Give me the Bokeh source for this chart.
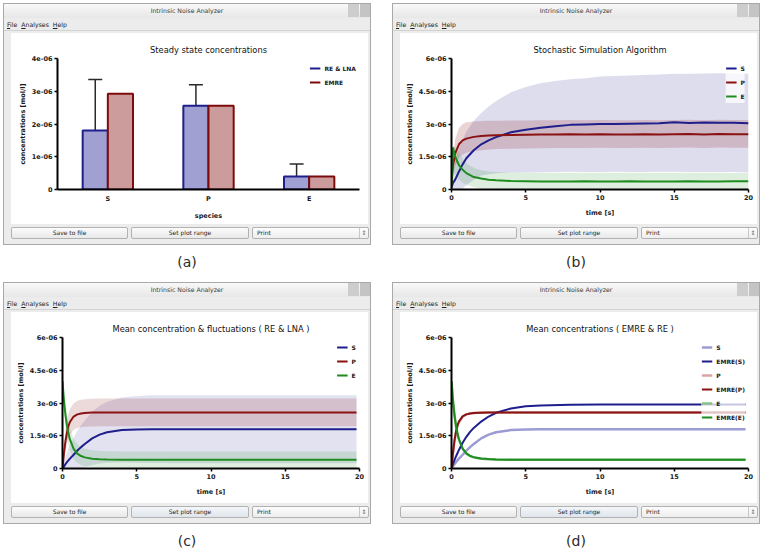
from bokeh.plotting import figure
from bokeh.layouts import row, column
from bokeh.models import (ColumnDataSource, FactorRange, Range1d, FixedTicker,
                          CustomJSTickFormatter, Whisker, TeeHead, Legend, LegendItem,
                          Div, Spacer)
from bokeh.transform import dodge
from bokeh.embed import file_html
from bokeh.resources import INLINE

# ------------------------------------------------------------------ data
# all concentrations below are read in micro-mol/l, converted to mol/l when drawn
MICRO = 1e-6

# (a) steady state
species = ["S", "P", "E"]
ss_re_lna = [1.80, 2.56, 0.40]
ss_re_lna_std = [1.56, 0.64, 0.38]
ss_emre = [2.92, 2.56, 0.40]

# (b) stochastic simulation algorithm: mean, lower/upper band edges
t_ssa = [0, 0.1, 0.25, 0.5, 0.75, 1, 1.5, 2, 2.5, 3, 4, 5, 6, 7, 8, 9, 10,
         11, 12, 13, 14, 15, 16, 17, 18, 19, 20]
ssa_S = [0.10, 0.30, 0.45, 0.82, 1.15, 1.43, 1.80, 2.07, 2.25, 2.40, 2.62, 2.74, 2.83,
         2.90, 2.96, 2.98, 3.00, 3.00, 3.01, 3.02, 3.03, 3.08, 3.05, 3.07, 3.06, 3.06, 3.04]
ssa_S_lo = [0.00, 0.00, 0.00, 0.00, 0.05, 0.20, 0.45, 0.64, 0.70, 0.74, 0.78, 0.78, 0.79,
            0.80, 0.81, 0.80, 0.80, 0.81, 0.80, 0.80, 0.81, 0.81, 0.80, 0.80, 0.80, 0.80, 0.78]
ssa_S_hi = [0.30, 0.80, 1.30, 1.90, 2.30, 2.65, 3.15, 3.50, 3.80, 4.05, 4.45, 4.70, 4.87,
            4.97, 5.05, 5.10, 5.17, 5.20, 5.22, 5.25, 5.27, 5.30, 5.30, 5.31, 5.32, 5.31, 5.30]
ssa_P = [0.30, 1.10, 1.65, 2.07, 2.25, 2.33, 2.41, 2.45, 2.47, 2.49, 2.50, 2.51, 2.52,
         2.52, 2.53, 2.52, 2.53, 2.52, 2.52, 2.53, 2.52, 2.53, 2.54, 2.52, 2.54, 2.53, 2.53]
ssa_P_lo = [0.00, 0.60, 1.05, 1.45, 1.60, 1.68, 1.75, 1.80, 1.83, 1.85, 1.87, 1.88, 1.89,
            1.90, 1.90, 1.90, 1.91, 1.90, 1.90, 1.91, 1.90, 1.91, 1.92, 1.90, 1.92, 1.91, 1.91]
ssa_P_hi = [0.60, 1.60, 2.30, 2.80, 3.00, 3.08, 3.12, 3.14, 3.15, 3.15, 3.16, 3.16, 3.17,
            3.17, 3.18, 3.17, 3.18, 3.17, 3.17, 3.18, 3.17, 3.18, 3.19, 3.17, 3.19, 3.18, 3.18]
ssa_E = [0.20, 1.92, 1.50, 1.12, 0.90, 0.75, 0.57, 0.50, 0.45, 0.42, 0.39, 0.38, 0.37,
         0.37, 0.37, 0.38, 0.37, 0.37, 0.38, 0.37, 0.37, 0.37, 0.38, 0.37, 0.37, 0.38, 0.38]
ssa_E_lo = [0.00, 0.90, 0.70, 0.45, 0.30, 0.22, 0.10, 0.05, 0.03, 0.02, 0.02, 0.02, 0.02,
            0.02, 0.02, 0.02, 0.02, 0.02, 0.02, 0.02, 0.02, 0.02, 0.02, 0.02, 0.02, 0.02, 0.02]
ssa_E_hi = [0.50, 2.00, 1.95, 1.70, 1.40, 1.20, 0.98, 0.88, 0.83, 0.80, 0.78, 0.77, 0.77,
            0.77, 0.77, 0.77, 0.77, 0.77, 0.77, 0.77, 0.77, 0.77, 0.77, 0.77, 0.77, 0.76, 0.76]

# (c), (d) deterministic solutions
t_ode = [0, 0.1, 0.2, 0.3, 0.4, 0.5, 0.75, 1.0, 1.25, 1.5, 2.0, 2.5, 3.0, 4.0, 5.0,
         6.0, 8.0, 10.0, 15.0, 19.8]
re_S = [0.00, 0.10, 0.20, 0.29, 0.37, 0.45, 0.63, 0.82, 0.98, 1.12, 1.38, 1.55, 1.66,
        1.76, 1.79, 1.80, 1.80, 1.80, 1.80, 1.80]
re_P = [0.00, 0.70, 1.25, 1.65, 1.95, 2.13, 2.38, 2.48, 2.52, 2.54, 2.56, 2.57, 2.57,
        2.57, 2.57, 2.57, 2.57, 2.57, 2.57, 2.57]
re_E = [4.00, 3.10, 2.45, 1.95, 1.60, 1.33, 0.90, 0.68, 0.57, 0.51, 0.45, 0.42, 0.41,
        0.40, 0.40, 0.40, 0.40, 0.40, 0.40, 0.40]
lna_S_std = [0.00, 0.20, 0.35, 0.45, 0.55, 0.62, 0.78, 0.90, 1.00, 1.08, 1.22, 1.32, 1.40,
             1.49, 1.53, 1.55, 1.56, 1.56, 1.56, 1.56]
lna_P_std = [0.00, 0.30, 0.45, 0.52, 0.56, 0.58, 0.61, 0.62, 0.63, 0.63, 0.64, 0.64, 0.64,
             0.64, 0.64, 0.64, 0.64, 0.64, 0.64, 0.64]
lna_E_std = [0.00, 0.40, 0.50, 0.52, 0.52, 0.50, 0.46, 0.43, 0.41, 0.40, 0.39, 0.38, 0.38,
             0.38, 0.38, 0.38, 0.38, 0.38, 0.38, 0.38]
emre_S = [0.00, 0.20, 0.38, 0.55, 0.70, 0.85, 1.18, 1.45, 1.68, 1.86, 2.15, 2.38, 2.55,
          2.75, 2.85, 2.89, 2.92, 2.93, 2.93, 2.93]
emre_P = [0.00, 0.72, 1.28, 1.68, 1.97, 2.15, 2.39, 2.48, 2.52, 2.54, 2.55, 2.56, 2.56,
          2.56, 2.56, 2.56, 2.56, 2.56, 2.56, 2.56]
emre_E = [4.00, 3.10, 2.46, 1.96, 1.61, 1.34, 0.91, 0.69, 0.58, 0.52, 0.46, 0.43, 0.41,
          0.40, 0.40, 0.40, 0.40, 0.40, 0.40, 0.40]

y_ticks_a = [0, 1, 2, 3, 4]
y_ticks_t = [0, 1.5, 3, 4.5, 6]
x_ticks_t = [0, 5, 10, 15, 20]

# ------------------------------------------------------------------ style
FONT = "DejaVu Sans"
NAVY = "#1e1e8c"
DRED = "#8a1212"
GREEN = "#1e8c1e"
L_S = "#9c9cd4"
L_P = "#dba4a4"
L_E = "#86c286"
BAR_RE = "#a0a0d2"
BAR_EMRE = "#cc9c9c"
BG = "#ececec"
BORDER = "#a9a9a9"

W, H = 368, 242
TOP_H, BOT_H = 30, 21
PW, PH = 357, 191
LP, RP = 8, 3


def mol(v):
    return [x * MICRO for x in v]


FMT = CustomJSTickFormatter(code="""
if (Math.abs(tick) < 1e-15) { return "0"; }
var s = Number(tick.toPrecision(6)).toExponential();
var m = s.split("e");
var e = parseInt(m[1]);
var a = Math.abs(e);
return m[0] + "e" + (e < 0 ? "-" : "+") + (a < 10 ? "0" + a : "" + a);
""")


def make_fig(title, x_range, y_range, left, offset):
    p = figure(width=PW, height=PH, x_range=x_range, y_range=y_range, title=title,
               output_backend="svg", toolbar_location=None,
               min_border_left=left, min_border_right=9, min_border_top=25,
               min_border_bottom=35, background_fill_color="white",
               border_fill_color="white", outline_line_color=None, margin=0)
    p.title.text_font = FONT
    p.title.text_font_size = "8.3px"
    p.title.text_font_style = "normal"
    p.title.text_color = "#111111"
    p.title.align = "center"
    p.title.standoff = 8
    p.title.offset = offset
    p.grid.visible = False
    for ax in (p.xaxis[0], p.yaxis[0]):
        ax.axis_line_width = 2
        ax.axis_line_color = "black"
        ax.major_tick_line_width = 1.5
        ax.major_tick_line_color = "black"
        ax.major_tick_out = 3
        ax.major_tick_in = 0
        ax.minor_tick_line_color = None
        ax.major_label_text_font = FONT
        ax.major_label_text_font_size = "6.5px"
        ax.major_label_text_font_style = "bold"
        ax.major_label_text_color = "#1a1a1a"
        ax.major_label_standoff = 2
        ax.axis_label_text_font = FONT
        ax.axis_label_text_font_size = "6.5px"
        ax.axis_label_text_font_style = "bold"
        ax.axis_label_text_color = "#1a1a1a"
        ax.axis_label_standoff = 6
    p.yaxis[0].axis_label = "concentrations [mol/l]"
    p.yaxis[0].axis_label_standoff = 2
    p.yaxis[0].formatter = FMT
    return p


def add_legend(p, items):
    leg = Legend(items=[LegendItem(label=l, renderers=[r]) for l, r in items],
                 location="top_right", label_text_font=FONT, label_text_font_size="6px",
                 label_text_font_style="bold", label_text_color="#1a1a1a",
                 label_height=14, label_width=0, glyph_height=14, glyph_width=11,
                 spacing=0, padding=3, margin=3, label_standoff=4,
                 border_line_color=None, background_fill_color="white",
                 background_fill_alpha=0.75)
    p.add_layout(leg)


def time_fig(title):
    p = make_fig(title, Range1d(0, 20), Range1d(0, 6 * MICRO), 51, -20)
    p.xaxis[0].ticker = FixedTicker(ticks=x_ticks_t)
    p.xaxis[0].axis_label = "time [s]"
    p.yaxis[0].ticker = FixedTicker(ticks=mol(y_ticks_t))
    return p


# ------------------------------------------------------------------ (a)
pa = make_fig("Steady state concentrations", FactorRange(factors=species, range_padding=0),
              Range1d(0, 4 * MICRO), 46, -18)
pa.xaxis[0].axis_label = "species"
pa.xaxis[0].major_tick_line_color = None
pa.yaxis[0].ticker = FixedTicker(ticks=mol(y_ticks_a))
src_a = ColumnDataSource(dict(
    species=species, re=mol(ss_re_lna), emre=mol(ss_emre),
    lower=[(m - s) * MICRO for m, s in zip(ss_re_lna, ss_re_lna_std)],
    upper=[(m + s) * MICRO for m, s in zip(ss_re_lna, ss_re_lna_std)],
    nothing=[float("nan")] * len(species)))
pa.vbar(x=dodge("species", -0.125, range=pa.x_range), top="re", width=0.25, source=src_a,
        fill_color=BAR_RE, line_color=NAVY, line_width=2)
pa.vbar(x=dodge("species", 0.125, range=pa.x_range), top="emre", width=0.25, source=src_a,
        fill_color=BAR_EMRE, line_color="#7c0c0c", line_width=2)
pa.add_layout(Whisker(base=dodge("species", -0.125, range=pa.x_range), upper="upper",
                      lower="lower", source=src_a, line_color="#2a2a2a", line_width=1.5,
                      upper_head=TeeHead(size=14, line_color="#2a2a2a", line_width=1.5),
                      lower_head=TeeHead(size=14, line_color="#2a2a2a", line_width=1.5)))
# legend proxies (lines with no drawable points, only to give line-style legend entries)
la1 = pa.line(x="species", y="nothing", source=src_a, line_color=NAVY, line_width=2)
la2 = pa.line(x="species", y="nothing", source=src_a, line_color="#7c0c0c", line_width=2)
add_legend(pa, [("RE & LNA", la1), ("EMRE", la2)])

# ------------------------------------------------------------------ (b)
pb = time_fig("Stochastic Simulation Algorithm")
pb.varea(x=t_ssa, y1=mol(ssa_S_lo), y2=mol(ssa_S_hi), fill_color=NAVY, fill_alpha=0.15)
pb.varea(x=t_ssa, y1=mol(ssa_P_lo), y2=mol(ssa_P_hi), fill_color=DRED, fill_alpha=0.18)
pb.varea(x=t_ssa, y1=mol(ssa_E_lo), y2=mol(ssa_E_hi), fill_color=GREEN, fill_alpha=0.14)
lb1 = pb.line(t_ssa, mol(ssa_S), line_color=NAVY, line_width=2)
lb2 = pb.line(t_ssa, mol(ssa_P), line_color=DRED, line_width=2)
lb3 = pb.line(t_ssa, mol(ssa_E), line_color=GREEN, line_width=2)
add_legend(pb, [("S", lb1), ("P", lb2), ("E", lb3)])

# ------------------------------------------------------------------ (c)
pc = time_fig("Mean concentration & fluctuations ( RE & LNA )")
for mean, std, col, a in ((re_S, lna_S_std, NAVY, 0.13), (re_P, lna_P_std, DRED, 0.16),
                          (re_E, lna_E_std, GREEN, 0.14)):
    pc.varea(x=t_ode, y1=[(m - s) * MICRO for m, s in zip(mean, std)],
             y2=[(m + s) * MICRO for m, s in zip(mean, std)], fill_color=col, fill_alpha=a)
lc1 = pc.line(t_ode, mol(re_S), line_color=NAVY, line_width=2)
lc2 = pc.line(t_ode, mol(re_P), line_color=DRED, line_width=2)
lc3 = pc.line(t_ode, mol(re_E), line_color=GREEN, line_width=2)
add_legend(pc, [("S", lc1), ("P", lc2), ("E", lc3)])

# ------------------------------------------------------------------ (d)
pd_ = time_fig("Mean concentrations ( EMRE & RE )")
ld1 = pd_.line(t_ode, mol(re_S), line_color=L_S, line_width=2.5)
ld3 = pd_.line(t_ode, mol(re_P), line_color=L_P, line_width=2.5)
ld5 = pd_.line(t_ode, mol(re_E), line_color=L_E, line_width=2.5)
ld2 = pd_.line(t_ode, mol(emre_S), line_color=NAVY, line_width=2)
ld4 = pd_.line(t_ode, mol(emre_P), line_color=DRED, line_width=2)
ld6 = pd_.line(t_ode, mol(emre_E), line_color=GREEN, line_width=2)
add_legend(pd_, [("S", ld1), ("EMRE(S)", ld2), ("P", ld3), ("EMRE(P)", ld4),
                 ("E", ld5), ("EMRE(E)", ld6)])


# ------------------------------------------------------------------ window chrome
def top_div():
    html = f"""<div style="position:relative;width:{W}px;height:{TOP_H}px;box-sizing:border-box;
background:{BG};border:1px solid {BORDER};border-bottom:none;font-family:'{FONT}',sans-serif;">
<div style="position:absolute;left:0;top:0;width:{W-2}px;height:14px;background:linear-gradient(#f8f8f8,#e7e7e7);"></div>
<div style="position:absolute;left:0;top:2px;width:{W-2}px;text-align:center;font-size:6.2px;line-height:10px;color:#3c3c3c;">Intrinsic Noise Analyzer</div>
<div style="position:absolute;right:11px;top:0;width:11px;height:13px;background:#cdcdcd;"></div>
<div style="position:absolute;right:0;top:0;width:10px;height:13px;background:#c4c4c4;"></div>
<div style="position:absolute;left:3px;top:16px;font-size:6.2px;line-height:9px;color:#222;white-space:nowrap;">
<u>F</u>ile&nbsp;&nbsp;<u>A</u>nalyses&nbsp;&nbsp;<u>H</u>elp</div>
<div style="position:absolute;left:0;top:26px;width:{W-2}px;height:1px;background:#d2d2d2;"></div>
</div>"""
    return Div(text=html, width=W, height=TOP_H, margin=0)


def side_div(width, side):
    html = f"""<div style="width:{width}px;height:{PH}px;box-sizing:border-box;background:{BG};
border-{side}:1px solid {BORDER};"></div>"""
    return Div(text=html, width=width, height=PH, margin=0)


def bottom_div(highlight):
    btn = ("position:absolute;top:3px;height:12px;box-sizing:border-box;border:1px solid #b2b2b2;"
           "border-radius:2px;font-size:6px;line-height:10px;color:#222;white-space:nowrap;")
    norm = "background:linear-gradient(#fcfcfc,#e8e8e8);"
    hi = "background:linear-gradient(#f4f7fa,#dfe5ec);" if highlight else norm
    html = f"""<div style="position:relative;width:{W}px;height:{BOT_H}px;box-sizing:border-box;
background:{BG};border:1px solid {BORDER};border-top:none;font-family:'{FONT}',sans-serif;">
<div style="{btn}{norm}left:7px;width:117px;text-align:center;">Save to file</div>
<div style="{btn}{hi}left:127px;width:118px;text-align:center;">Set plot range</div>
<div style="{btn}background:linear-gradient(#fdfdfd,#eeeeee);left:248px;width:117px;padding-left:4px;">Print
<span style="position:absolute;right:0;top:0;width:9px;height:10px;border-left:1px solid #c8c8c8;text-align:center;color:#666;font-size:6px;">&#8661;</span></div>
</div>"""
    return Div(text=html, width=W, height=BOT_H, margin=0)


def caption(txt, h):
    html = f"""<div style="width:{W}px;height:{h}px;overflow:hidden;text-align:center;
font-family:'{FONT}',sans-serif;font-size:14px;line-height:34px;color:#2a2a2a;">{txt}</div>"""
    return Div(text=html, width=W, height=h, margin=0)


def window(p, txt, highlight, cap_h):
    return column(top_div(),
                  row(side_div(LP, "left"), p, side_div(RP, "right"), margin=0),
                  bottom_div(highlight),
                  caption(txt, cap_h), margin=0)


GAP = 21
grid = column(
    Spacer(width=10, height=3, margin=0),
    row(window(pa, "(a)", False, 37), Spacer(width=GAP, height=10, margin=0),
        window(pb, "(b)", False, 37), margin=0),
    row(window(pc, "(c)", True, 26), Spacer(width=GAP, height=10, margin=0),
        window(pd_, "(d)", True, 26), margin=0),
    margin=0,
)
layout = row(Spacer(width=3, height=10, margin=0), grid, margin=0)

open("out.html", "w").write(file_html(layout, INLINE))
